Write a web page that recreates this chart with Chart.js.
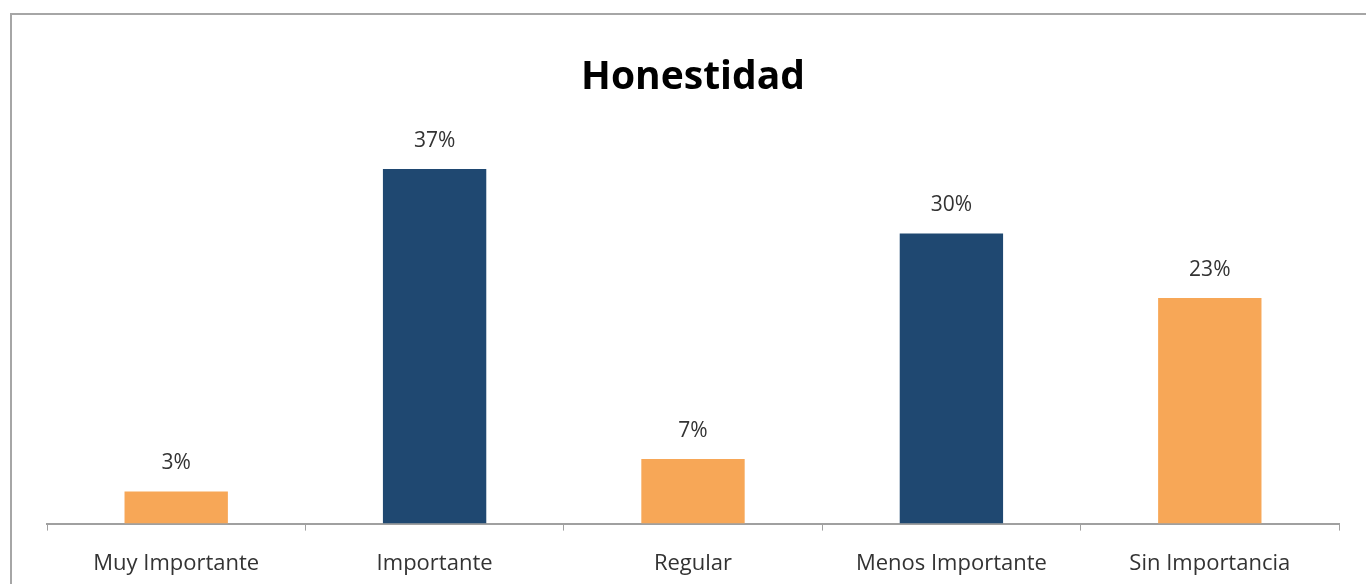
<!DOCTYPE html>
<html>
<head>
<meta charset="utf-8">
<script src="https://cdn.jsdelivr.net/npm/chart.js@4/dist/chart.umd.min.js"></script>
<style>
  html, body { margin: 0; padding: 0; background: #fff; }
  #wrap { position: relative; width: 1366px; height: 584px; overflow: hidden; }
  #frame { position: absolute; left: 10px; top: 13px; width: 1400px; height: 620px;
           border: 2px solid #a6a6a6; box-sizing: border-box; pointer-events: none; }
  canvas { position: absolute; left: 0; top: 0; }
</style>
</head>
<body>
<div id="wrap">
  <div id="frame"></div>
  <canvas id="chart" width="1366" height="598"></canvas>
</div>
<script>
// data
const categories = ["Muy Importante", "Importante", "Regular", "Menos Importante", "Sin Importancia"];
const values = [3.33, 36.67, 6.67, 30.0, 23.33];
const barColors = ["#F7A757", "#1F4871", "#F7A757", "#1F4871", "#F7A757"];

const FONT = "'Open Sans', Lato, sans-serif";

// value labels above each bar
const valueLabels = {
    id: "valueLabels",
    afterDatasetsDraw(chart) {
        const ctx = chart.ctx;
        const meta = chart.getDatasetMeta(0);
        ctx.save();
        ctx.font = "21px " + FONT;
        ctx.fillStyle = "#333";
        ctx.textAlign = "center";
        ctx.textBaseline = "middle";
        meta.data.forEach((bar, i) => {
            ctx.fillText(Math.round(values[i]) + "%", bar.x, bar.y - 28);
        });
        ctx.restore();
    }
};

new Chart(document.getElementById("chart"), {
    type: "bar",
    data: {
        labels: categories,
        datasets: [{
            data: values,
            backgroundColor: barColors,
            categoryPercentage: 1,
            barPercentage: 0.4
        }]
    },
    options: {
        responsive: false,
        animation: false,
        layout: { padding: { left: 47, right: 27, top: 0, bottom: 1 } },
        plugins: {
            legend: { display: false },
            tooltip: { enabled: false },
            title: {
                display: true,
                text: "Honestidad",
                color: "#000",
                font: { family: FONT, size: 39, weight: "bold", lineHeight: 1.2 },
                padding: { top: 54, bottom: 36 }
            }
        },
        scales: {
            x: {
                grid: { drawOnChartArea: false, drawTicks: true, tickLength: 7, color: "#a0a0a0", offset: true },
                border: { color: "#a0a0a0", width: 2 },
                ticks: { color: "#333", font: { family: FONT, size: 22 }, padding: 20 }
            },
            y: {
                display: false,
                min: 0,
                max: 40
            }
        }
    },
    plugins: [valueLabels]
});
</script>
</body>
</html>
